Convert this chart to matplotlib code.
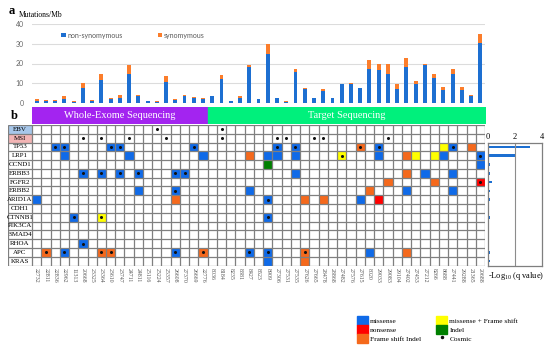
import matplotlib
matplotlib.use('Agg')
import matplotlib.pyplot as plt
from matplotlib.patches import Rectangle, Patch
from matplotlib.lines import Line2D
import numpy as np

plt.rcParams['font.family'] = ['Liberation Serif', 'DejaVu Serif']

# ---- data -------------------------------------------------------------
samples = ['22732', '22811', '22836', '22962', '11313', '20668', '23325', '23364',
           '23610', '23747', '24711', '24811', '25116', '25224', '25357', '26608',
           '27370', '26669', '22776',
           '8036', '8184', '8235', '8381', '8427', '8523', '8909', '27306', '27531',
           '27535', '27626', '27665', '28478', '28868', '27482', '27576', '27615',
           '8020', '29033', '29083', '29104', '27402', '27453', '27212', '8266',
           '8688', '27441', '29288', '21365', '20688']
n_wes = 19  # first 19 samples are whole-exome, rest target sequencing

nonsyn = [1.0, 1.2, 1.2, 2.2, 0.6, 7.4, 1.2, 11.4, 2.2, 2.7, 14.5, 3.4, 0.8, 0.6,
          10.6, 1.5, 3.3, 2.5, 2.0,
          3.4, 12.1, 0.9, 2.4, 18.3, 1.8, 24.8, 2.3, 0.3, 15.5, 6.9, 2.4, 6.2, 2.4,
          9.6, 9.7, 7.8, 17.2, 16.7, 14.7, 6.9, 18.4, 9.5, 19.0, 12.9, 6.7, 14.7,
          6.7, 3.4, 30.2]
syn = [0.8, 0.5, 0.5, 1.2, 0.4, 2.9, 0.5, 3.2, 0.5, 1.1, 4.5, 0.9, 0.4, 0.4,
       3.1, 0.6, 1.0, 0.6, 0.6,
       0.2, 1.9, 0.1, 1.2, 0.7, 0.1, 5.2, 0.1, 0.7, 1.7, 0.9, 0.0, 0.7, 0.0,
       0.1, 0.6, 0.0, 4.5, 3.1, 5.1, 2.8, 4.4, 1.7, 0.8, 1.8, 1.2, 2.5,
       1.2, 0.9, 4.5]

genes = ['EBV', 'MSI', 'TP53', 'LRP1', 'CCND1', 'ERBB3', 'FGFR2', 'ERBB2', 'ARID1A',
         'CDH1', 'CTNNB1', 'PIK3CA', 'SMAD4', 'RHOA', 'APC', 'KRAS']

# one char per sample: m missense, n nonsense, f frame shift indel,
# y missense + frame shift, i indel, + positive; upper case = Cosmic
rows = [
    '..........' '...+......' '+.........' '..........' '.........',   # EBV
    '.....+.+..' '+...+.....' '+.....++..' '++......+.' '.........',   # MSI
    '..MM....MM' '.......M..' '......M.M.' '.....F.M..' '....yM.f.',   # TP53
    '...m......' 'm.......m.' '...f.mm.m.' '...Y...m..' 'fy.ym...M',   # LRP1
    '..........' '..........' '.....i....' '..........' '........m',   # CCND1
    '.....M.M.M' '.M...MM...' '........m.' '..........' 'f.m..m...',   # ERBB3
    '..........' '..........' '..........' '........f.' '...f....N',   # FGFR2
    '..........' '.m...M....' '...m......' '......f...' 'm....m...',   # ERBB2
    'm.........' '.....f....' '.....M...f' '.f...m.n..' '.........',   # ARID1A
    '..........' '..........' '..........' '..........' '.........',   # CDH1
    '....M..Y..' '..........' '.....M....' '..........' '.........',   # CTNNB1
    '..........' '..........' '..........' '..........' '.........',   # PIK3CA
    '..........' '..........' '..........' '..........' '.........',   # SMAD4
    '.....M....' '..........' '..........' '..........' '.........',   # RHOA
    '.F.M...FF.' '.....M..F.' '...M.M...F' '......m...' 'f........',   # APC
    '..........' '..........' '.....m...f' '..........' '.........',   # KRAS
]

# -log10(q value) for TP53 .. KRAS
q_genes = genes[2:]
q_vals = [3.1, 2.1, 0.15, 0.15, 0.32, 0.15, 0.15, 0.0, 0.15, 0.0, 0.0, 0.0, 0.15, 0.15]

# ---- style ------------------------------------------------------------
bar_blue, bar_orange = '#1d6fd1', '#fb7d2b'
mut_colors = {'m': '#0f6ae8', 'n': '#ff0000', 'f': '#f5691c',
              'y': '#ffff00', 'i': '#008000'}
purple, green = '#a324f0', '#00f07c'
grid_col = '#7f7f7f'

W, H = 550, 358
fig = plt.figure(figsize=(W / 100, H / 100), dpi=100)


def px_box(x0, y0, x1, y1):
    return [x0 / W, 1 - y1 / H, (x1 - x0) / W, (y1 - y0) / H]


n = len(samples)
x = np.arange(n)

# ---- a: mutation burden ----------------------------------------------
ax = fig.add_axes(px_box(32, 24, 485, 103))
ax.bar(x, nonsyn, width=0.42, color=bar_blue, label='non-synomymous', zorder=2)
ax.bar(x, syn, bottom=nonsyn, width=0.42, color=bar_orange, label='synomymous', zorder=2)
ax.set_xlim(-0.5, n - 0.5)
ax.set_ylim(0, 40)
ax.set_yticks([0, 10, 20, 30, 40])
ax.set_xticks([])
ax.grid(axis='y', color='#dcdcdc', lw=0.8, zorder=0)
for s in ax.spines.values():
    s.set_visible(False)
ax.tick_params(axis='y', length=0, labelsize=5, labelcolor='#666666', pad=6)
for t in ax.get_yticklabels():
    t.set_family('Lato')
leg = ax.legend(loc='center left', bbox_to_anchor=(0.065, 0.86), ncol=2, frameon=False,
                fontsize=5, handlelength=0.6, handleheight=0.6, handletextpad=0.3,
                columnspacing=5.0, labelcolor='#595959', borderaxespad=0, borderpad=0)
for t in leg.get_texts():
    t.set_family('Lato')

fig.text(12 / W, 1 - 11 / H, 'a', fontsize=9, fontweight='bold', ha='center', va='center')
fig.text(19 / W, 1 - 15 / H, 'Mutations/Mb', fontsize=5.5, ha='left', va='center')

# ---- sequencing banner -----------------------------------------------
axb = fig.add_axes(px_box(32, 107, 485, 123))
axb.broken_barh([(0, n_wes)], (0, 1), color=purple)
axb.broken_barh([(n_wes, n - n_wes)], (0, 1), color=green)
axb.set_xlim(0, n)
axb.set_ylim(0, 1)
axb.axis('off')
axb.text(n_wes / 2, 0.5, 'Whole-Exome Sequencing', color='white', fontsize=7.5,
         ha='center', va='center')
axb.text(n_wes + (n - n_wes) / 2, 0.5, 'Target Sequencing', color='white', fontsize=7.5,
         ha='center', va='center')

fig.text(14 / W, 1 - 116 / H, 'b', fontsize=9, fontweight='bold', ha='center', va='center')

# ---- b: mutation grid ------------------------------------------------
lab_w = 2.6
axg = fig.add_axes(px_box(8, 125, 485, 265.5))
axg.set_xlim(-lab_w, n)
axg.set_ylim(len(genes), 0)
axg.axis('off')

axg.add_patch(Rectangle((-lab_w, 0), lab_w, 1, fc='#a7c7ea', ec='none', zorder=0))
axg.add_patch(Rectangle((-lab_w, 1), lab_w, 1, fc='#f3b5b5', ec='none', zorder=0))

dot_x, dot_y = [], []
for r, (gene, row) in enumerate(zip(genes, rows)):
    assert len(row) == n
    axg.text(-lab_w / 2, r + 0.5, gene, fontsize=5, ha='center', va='center')
    for c, code in enumerate(row):
        if code == '.':
            continue
        if code != '+':
            axg.add_patch(Rectangle((c, r), 1, 1, fc=mut_colors[code.lower()],
                                    ec='none', zorder=1))
        if code == '+' or code.isupper():
            dot_x.append(c + 0.5)
            dot_y.append(r + 0.5)
axg.plot(dot_x, dot_y, ls='none', marker='o', ms=1.2, color='#111111', zorder=3)

axg.vlines(np.r_[-lab_w, np.arange(n + 1)], 0, len(genes), color=grid_col, lw=0.9, zorder=2)
axg.hlines(np.arange(len(genes) + 1), -lab_w, n, color=grid_col, lw=0.9, zorder=2)

for c, s in enumerate(samples):
    axg.text(c + 0.5, len(genes) + 0.25, s, rotation=270, ha='center', va='top',
             fontsize=4.2, color='#555555')

# ---- q value panel ---------------------------------------------------
axq = fig.add_axes(px_box(488, 142.6, 542, 265.5))
axq.barh(np.arange(2, len(genes)) + 0.5, q_vals, height=0.3, color=bar_blue)
axq.set_ylim(len(genes), 2)
axq.set_xlim(0, 4)
axq.xaxis.tick_top()
axq.set_xticks([0, 2, 4])
axq.set_yticks([])
axq.tick_params(axis='x', length=0, pad=1, labelsize=6)
axq.axvline(2, color='#8c8c8c', lw=0.8)
for s in axq.spines.values():
    s.set_color('#7f7f7f')
    s.set_linewidth(0.9)
fig.text(488 / W, 1 - 276 / H, r'-Log$_{\mathregular{10}}$ (q value)', fontsize=6,
         ha='left', va='center')

# ---- legend ----------------------------------------------------------
handles = [Patch(color=mut_colors['m'], label='missense'),
           Patch(color=mut_colors['n'], label='nonsense'),
           Patch(color=mut_colors['f'], label='Frame shift Indel'),
           Patch(color=mut_colors['y'], label='missense + Frame shift'),
           Patch(color=mut_colors['i'], label='Indel'),
           Line2D([], [], ls='none', marker='o', ms=1.5, color='#111111', label='Cosmic')]
fig.legend(handles=handles, loc='upper left', bbox_to_anchor=(357 / W, 1 - 316 / H),
           ncol=2, frameon=False, fontsize=5.3, handlelength=1.5, handleheight=1.5,
           handletextpad=0.3, labelspacing=0, columnspacing=2.0,
           borderpad=0, borderaxespad=0)

fig.savefig('out.png', dpi=100)
